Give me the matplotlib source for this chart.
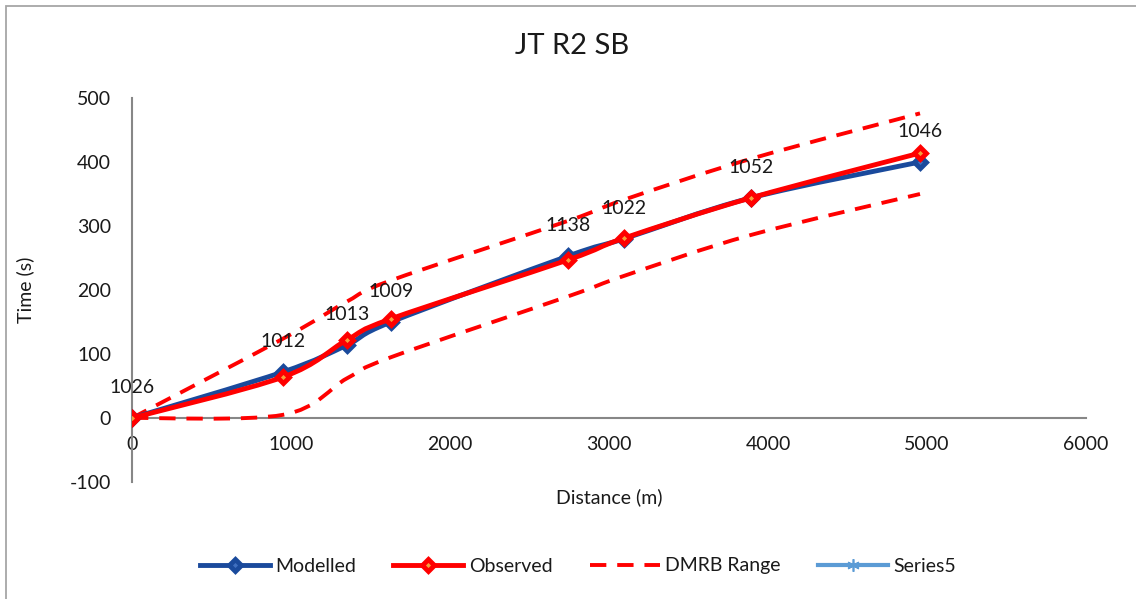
import matplotlib
matplotlib.use("Agg")
import matplotlib.pyplot as plt
from matplotlib.path import Path
from matplotlib.patches import PathPatch, Rectangle
from matplotlib.lines import Line2D
import numpy as np

plt.rcParams['font.family'] = ['Lato', 'DejaVu Sans']
plt.rcParams['axes.unicode_minus'] = False

# Journey time survey data (distance along route in metres, cumulative time in s)
distance = [0, 950, 1352, 1629, 2742, 3094, 3893, 4956]
modelled = [0, 72, 114, 150, 253, 280, 344, 400]
observed = [0, 64, 122, 155, 247, 281, 344, 414]
dmrb_upper = [0, 124, 182, 215, 308, 341, 405, 476]
dmrb_lower = [0, 5, 62, 95, 190, 222, 286, 350]
timing_points = ['1026', '1012', '1013', '1009', '1138', '1022', '1052', '1046']

x_ticks = [0, 1000, 2000, 3000, 4000, 5000, 6000]
y_ticks = [-100, 0, 100, 200, 300, 400, 500]

BLUE = '#1A4A9C'
RED = '#FF0000'
AXIS_GREY = '#878787'
TEXT = '#1a1a1a'
FS = 14
DASH = (0, (4.2, 2.8))


def smooth_path(xs, ys, tension=1.0 / 6.0):
    """Bezier path through the points with Catmull-Rom style tangents."""
    pts = np.column_stack([xs, ys]).astype(float)
    verts = [pts[0]]
    codes = [Path.MOVETO]
    n = len(pts)
    for i in range(n - 1):
        p0 = pts[i - 1] if i > 0 else pts[i]
        p1 = pts[i]
        p2 = pts[i + 1]
        p3 = pts[i + 2] if i + 2 < n else pts[i + 1]
        c1 = p1 + (p2 - p0) * tension
        c2 = p2 - (p3 - p1) * tension
        verts += [c1, c2, p2]
        codes += [Path.CURVE4] * 3
    return Path(verts, codes)


fig = plt.figure(figsize=(11.36, 5.99), dpi=100)
ax = fig.add_axes([132 / 1136, 1 - 482 / 599, 954 / 1136, 384 / 599])

# DMRB range envelope (dashed)
for band in (dmrb_upper, dmrb_lower):
    ax.add_patch(PathPatch(smooth_path(distance, band), facecolor='none',
                           edgecolor=RED, lw=2.8, ls=DASH,
                           capstyle='butt', zorder=3))

# Modelled and observed journey time curves
ax.add_patch(PathPatch(smooth_path(distance, modelled), facecolor='none',
                       edgecolor=BLUE, lw=3.5, zorder=4))
ax.plot(distance, modelled, ls='none', marker='D', ms=6, mfc='#3F6FBF',
        mec=BLUE, mew=3.5, zorder=5)
ax.add_patch(PathPatch(smooth_path(distance, observed), facecolor='none',
                       edgecolor=RED, lw=3.5, zorder=6))
ax.plot(distance, observed, ls='none', marker='D', ms=6, mfc='#F5A03C',
        mec=RED, mew=3.5, zorder=7)

# Timing point labels
for xv, yv, lab in zip(distance, modelled, timing_points):
    ax.annotate(lab, (xv, yv), xytext=(0, 22), textcoords='offset points',
                ha='center', va='center', fontsize=FS, color=TEXT,
                zorder=8)

ax.set_xlim(0, 6000)
ax.set_ylim(-100, 500)
ax.set_xticks(x_ticks)
ax.set_yticks(y_ticks)

for side in ('top', 'right'):
    ax.spines[side].set_visible(False)
ax.spines['bottom'].set_position(('data', 0))
for side in ('left', 'bottom'):
    ax.spines[side].set_color(AXIS_GREY)
    ax.spines[side].set_linewidth(1.5)
ax.tick_params(axis='both', length=0, labelsize=FS, labelcolor=TEXT)
ax.tick_params(axis='x', pad=13)
ax.tick_params(axis='y', pad=15)

ax.set_xlabel('Distance (m)', fontsize=FS, color=TEXT)
ax.set_ylabel('Time (s)', fontsize=FS, color=TEXT)
ax.xaxis.set_label_coords(0.5, -0.039)
ax.xaxis.label.set_va('center')
ax.yaxis.set_label_coords(-0.112, 0.5)
ax.yaxis.label.set_va('center')

fig.text(572 / 1136, 1 - 46 / 599, 'JT R2 SB', ha='center', va='center',
         fontsize=21, color=TEXT)

handles = [
    Line2D([], [], color=BLUE, lw=3.5, marker='D', ms=6, mfc='#3F6FBF',
           mec=BLUE, mew=3.5),
    Line2D([], [], color=RED, lw=3.5, marker='D', ms=6, mfc='#F5A03C',
           mec=RED, mew=3.5),
    Line2D([], [], color=RED, lw=2.8, ls=DASH),
    Line2D([], [], color='#5B9BD5', lw=3, marker=(6, 2, 0), ms=9,
           mec='#5B9BD5', mew=1.2),
]
fig.legend(handles, ['Modelled', 'Observed', 'DMRB Range', 'Series5'],
           loc='center', bbox_to_anchor=(578 / 1136, 1 - 566 / 599), ncol=4,
           frameon=False, fontsize=FS, handlelength=3.6, handletextpad=0.3,
           columnspacing=1.9, labelcolor=TEXT)

# Chart area border
fig.patches.append(Rectangle((6 / 1136, -0.05), 1.2, 1 - 6 / 599 + 0.05,
                             transform=fig.transFigure, facecolor='none',
                             edgecolor='#A6A6A6', lw=1.3))

fig.savefig('out.png', dpi=100)
